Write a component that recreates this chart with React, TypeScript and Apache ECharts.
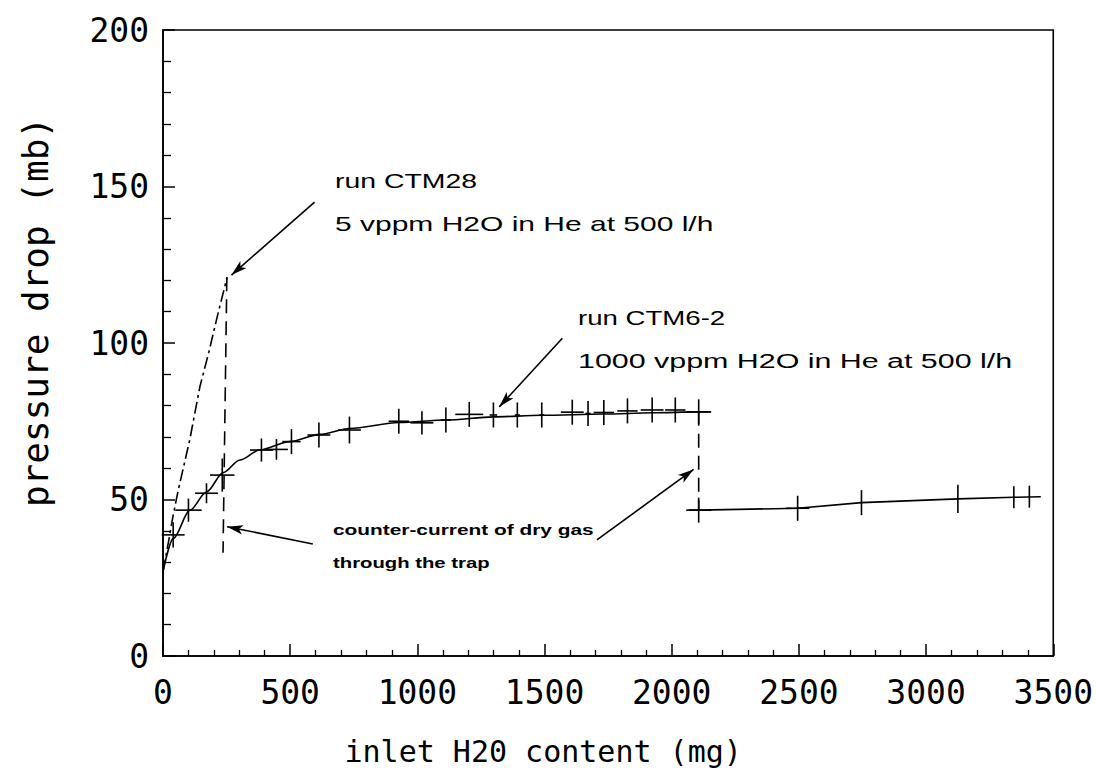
import React, { useEffect, useRef } from "react";
import * as echarts from "echarts";

// CTM28 run (dash-dot line)
const ctm28Curve: number[][] = [
  [0, 27], [25, 38], [40, 45], [60, 53], [105, 69], [145, 86], [180, 97], [215, 109], [252, 121],
];
const ctm28Drop: number[][] = [[251, 121], [236, 33]];

// CTM6-2 run: fitted curve
const ctm62Fit: number[][] = [
  [0, 27], [40, 37.5], [106, 46.6], [171, 52.4], [237, 58.6], [302, 62.6], [380, 65.8], [498, 68.5],
  [616, 70.8], [733, 72.7], [929, 74.6], [1112, 75.4], [1299, 76.4], [1489, 76.9], [1733, 77.3],
  [1923, 77.7], [2106, 78], [2152, 78],
];
// CTM6-2 measured points: [x, y, xErr, yErr]
const ctm62Points: number[][] = [
  [40, 38.7, 45, 4], [100, 46.6, 52, 3.7], [171, 52, 45, 3.2], [233, 57.8, 48, 5.3],
  [387, 65.8, 45, 3.7], [446, 66, 45, 3.3], [505, 68.5, 36, 4], [613, 70.6, 45, 4],
  [733, 72.2, 45, 4.3], [927, 75, 40, 4], [1018, 74.5, 45, 3.7], [1112, 75.4, 20, 4],
  [1204, 77.2, 55, 4], [1299, 77, 15, 4], [1393, 77, 10, 4], [1489, 77, 10, 4],
  [1609, 77.9, 45, 4], [1671, 77.5, 10, 4], [1733, 77.8, 40, 4], [1826, 78.3, 40, 4],
  [1923, 78.6, 45, 4], [2014, 78.6, 40, 4], [2106, 78, 49, 4],
];
const ctm62Drop: number[][] = [[2106, 78], [2106, 46.6]];
const ctm62After: number[][] = [
  [2067, 46.6], [2106, 46.6], [2495, 47.2], [2746, 49], [3125, 50.2], [3345, 50.7], [3451, 50.9],
];
const ctm62AfterPoints: number[][] = [
  [2106, 46.6, 49, 4], [2495, 47.2, 46, 4], [2746, 49, 0, 4], [3125, 50.2, 0, 4.5],
  [3345, 50.7, 0, 3.5], [3406, 50.9, 0, 3.5],
];
// annotation arrows: [from, to] in data coordinates
const arrows: number[][][] = [
  [[596, 145], [269, 121.7]],
  [[1570, 101.5], [1322, 79.6]],
  [[589, 35.8], [252, 41.3]],
  [[1706, 37.1], [2086, 59.6]],
];

const xName = "inlet H20 content (mg)";
const yName = "pressure drop (mb)";

const tickFont = "DejaVu Sans Mono";
const annFont = "Liberation Sans, Arial, sans-serif";

function crossItem(params: any, api: any) {
  const x = api.value(0);
  const y = api.value(1);
  const ex = api.value(2);
  const ey = api.value(3);
  const st = { stroke: "#000", lineWidth: 1.6 };
  const t = api.coord([x, y + ey]);
  const b = api.coord([x, y - ey]);
  const children: any[] = [
    { type: "line", shape: { x1: t[0], y1: t[1], x2: b[0], y2: b[1] }, style: st },
  ];
  if (ex > 0) {
    const l = api.coord([x - ex, y]);
    const r = api.coord([x + ex, y]);
    children.push({ type: "line", shape: { x1: l[0], y1: l[1], x2: r[0], y2: r[1] }, style: st });
  }
  return { type: "group", children };
}

function annText(text: string, x: number, y: number, size: number, sx: number, weight: string) {
  return {
    type: "text",
    x,
    y,
    scaleX: sx,
    style: {
      text,
      fill: "#000",
      font: `${weight} ${size}px ${annFont}`,
      textAlign: "left",
      textVerticalAlign: "middle",
    },
  };
}

export default function App() {
  const ref = useRef<HTMLDivElement>(null);
  useEffect(() => {
    document.body.style.margin = "0";
    const chart = echarts.init(ref.current!, null, { renderer: "svg" });
    const lineBase = { type: "line", showSymbol: false, symbol: "none", silent: true };
    chart.setOption({
      animation: false,
      backgroundColor: "#fff",
      grid: {
        left: 163, right: 40, top: 30, bottom: 122,
        show: true, borderColor: "#000", borderWidth: 1.6, backgroundColor: "transparent",
      },
      xAxis: {
        type: "value", min: 0, max: 3500, interval: 500,
        axisLine: { show: true, onZero: false, lineStyle: { color: "#000", width: 1.6 } },
        axisTick: { show: true, inside: true, length: 12, lineStyle: { color: "#000", width: 1.5 } },
        minorTick: { show: true, splitNumber: 5, length: 6, lineStyle: { color: "#000", width: 1.3 } },
        splitLine: { show: false },
        axisLabel: {
          color: "#000", fontFamily: tickFont, fontSize: 33, margin: 20,
          formatter: (v: number) => String(v),
        },
        name: xName, nameLocation: "middle", nameGap: 80,
        nameTextStyle: { color: "#000", fontFamily: tickFont, fontSize: 30, padding: [0, 130, 0, 0] },
      },
      yAxis: {
        type: "value", min: 0, max: 200, interval: 50,
        axisLine: { show: true, onZero: false, lineStyle: { color: "#000", width: 1.6 } },
        axisTick: { show: true, inside: true, length: 12, lineStyle: { color: "#000", width: 1.5 } },
        minorTick: { show: true, splitNumber: 5, length: 8, lineStyle: { color: "#000", width: 1.3 } },
        splitLine: { show: false },
        axisLabel: {
          color: "#000", fontFamily: tickFont, fontSize: 33, margin: 14,
          formatter: (v: number) => String(v),
        },
        name: yName, nameLocation: "middle", nameGap: 110,
        nameTextStyle: { color: "#000", fontFamily: tickFont, fontSize: 36, padding: [0, 0, 0, 62] },
      },
      series: [
        {
          ...lineBase, name: "CTM28", data: ctm28Curve,
          lineStyle: { color: "#000", width: 1.6, type: [12, 4, 3, 4] },
        },
        {
          ...lineBase, name: "CTM28 drop", data: ctm28Drop,
          lineStyle: { color: "#000", width: 1.6, type: [14, 8] },
        },
        {
          ...lineBase, name: "CTM6-2 fit", data: ctm62Fit, smooth: 0.3, smoothMonotone: "x",
          lineStyle: { color: "#000", width: 1.6 },
        },
        {
          ...lineBase, name: "CTM6-2 drop", data: ctm62Drop,
          lineStyle: { color: "#000", width: 1.6, type: [14, 8] },
        },
        {
          ...lineBase, name: "CTM6-2 after", data: ctm62After,
          lineStyle: { color: "#000", width: 1.6 },
          markLine: {
            silent: true, animation: false,
            symbol: ["none", "arrow"], symbolSize: [7, 16],
            label: { show: false },
            lineStyle: { color: "#000", width: 1.6, type: "solid" },
            data: arrows.map((a) => [{ coord: a[0] }, { coord: a[1] }]),
          },
        },
        {
          type: "custom", name: "CTM6-2 points", silent: true,
          renderItem: crossItem, data: ctm62Points, encode: { x: 0, y: 1 },
        },
        {
          type: "custom", name: "CTM6-2 points 2", silent: true,
          renderItem: crossItem, data: ctm62AfterPoints, encode: { x: 0, y: 1 },
        },
      ],
      graphic: [
        annText("run CTM28", 335, 181, 20, 1.42, "normal"),
        annText("5 vppm H2O in He at 500 l/h", 335, 224, 20, 1.5, "normal"),
        annText("run CTM6-2", 578, 318, 20, 1.38, "normal"),
        annText("1000 vppm H2O in He at 500 l/h", 578, 361, 20, 1.52, "normal"),
        annText("counter-current of dry gas", 333, 530, 14, 1.49, "bold"),
        annText("through the trap", 333, 563, 14, 1.45, "bold"),
      ],
    });
    return () => chart.dispose();
  }, []);
  return <div ref={ref} style={{ width: 1096, height: 778, background: "#fff" }} />;
}
